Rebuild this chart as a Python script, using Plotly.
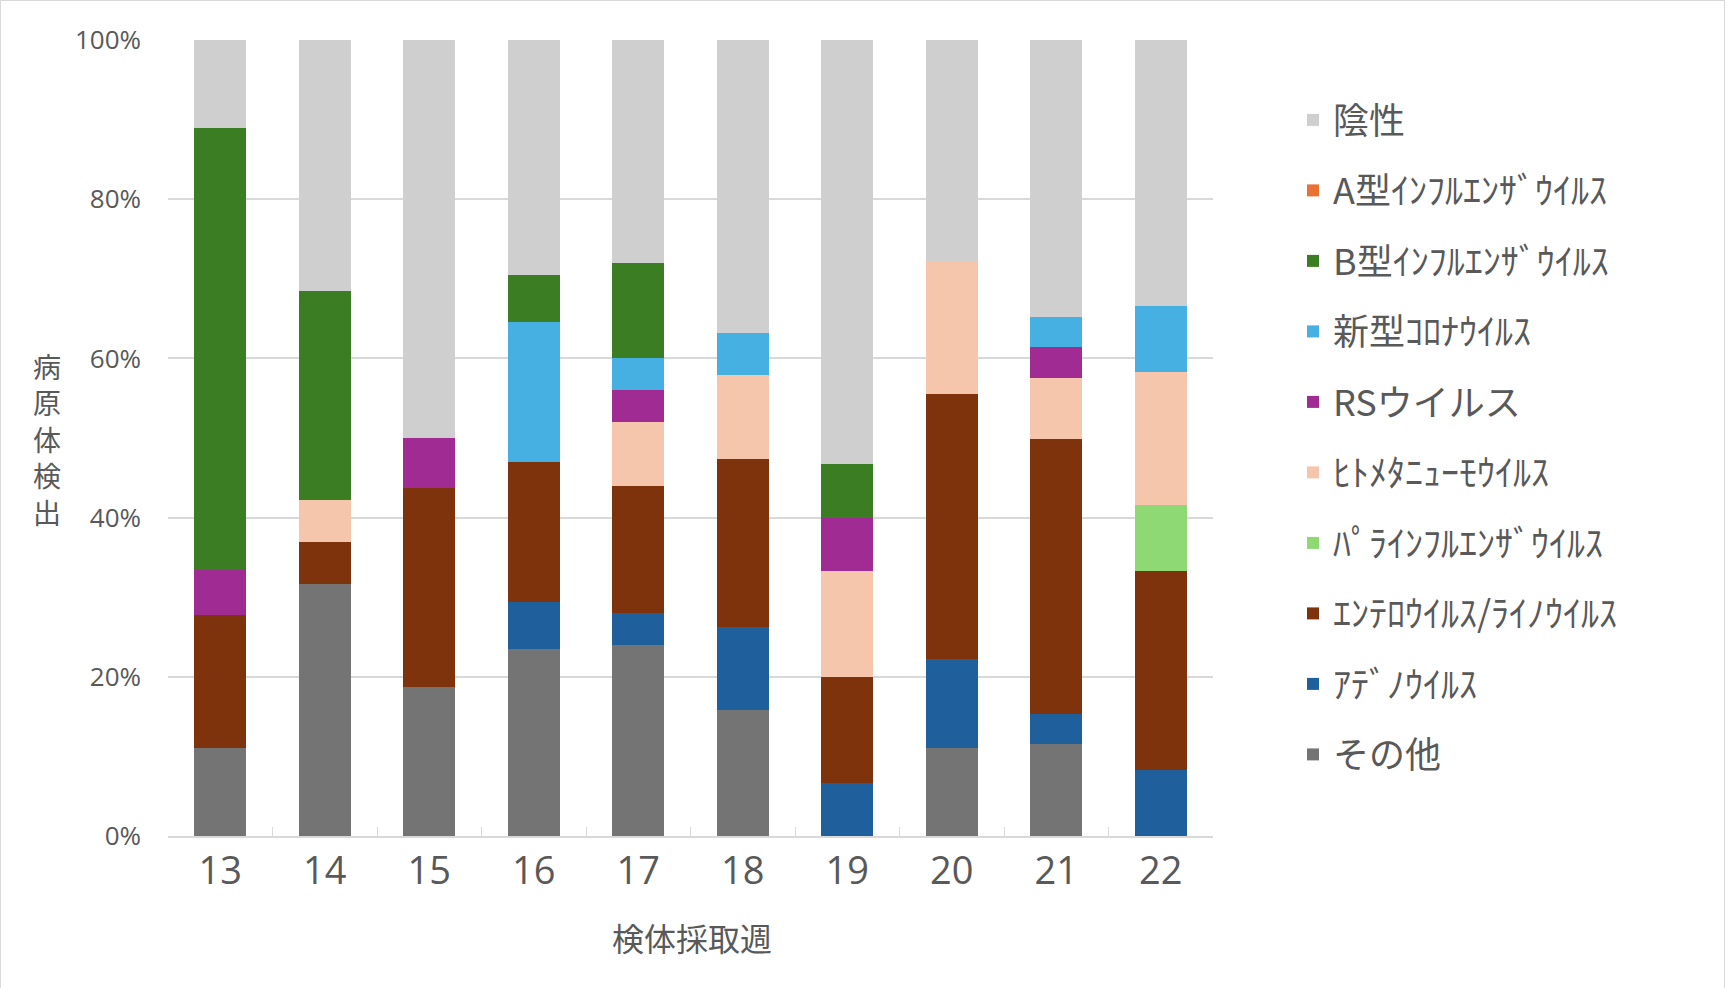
import plotly.graph_objects as go

weeks = ["13", "14", "15", "16", "17", "18", "19", "20", "21", "22"]

other = [11.1, 31.6, 18.7, 23.5, 24.0, 15.8, 0, 11.1, 11.5, 0]
adeno = [0, 0, 0, 5.9, 4.0, 10.5, 6.7, 11.1, 3.8, 8.3]
entero = [16.7, 5.3, 25.0, 17.6, 16.0, 21.1, 13.3, 33.3, 34.6, 25.0]
para = [0, 0, 0, 0, 0, 0, 0, 0, 0, 8.3]
hmpv = [0, 5.3, 0, 0, 8.0, 10.5, 13.3, 16.7, 7.7, 16.7]
rsv = [5.6, 0, 6.3, 0, 4.0, 0, 6.7, 0, 3.8, 0]
covid = [0, 0, 0, 17.6, 4.0, 5.3, 0, 0, 3.8, 8.3]
flu_b = [55.5, 26.3, 0, 5.9, 12.0, 0, 6.7, 0, 0, 0]
flu_a = [0, 0, 0, 0, 0, 0, 0, 0, 0, 0]
negative = [11.1, 31.5, 50.0, 29.5, 28.0, 36.8, 53.3, 27.8, 34.8, 33.4]

series_names = ["その他", "ｱﾃﾞﾉｳｲﾙｽ", "ｴﾝﾃﾛｳｲﾙｽ/ﾗｲﾉｳｲﾙｽ", "ﾊﾟﾗｲﾝﾌﾙｴﾝｻﾞｳｲﾙｽ",
                "ﾋﾄﾒﾀﾆｭｰﾓｳｲﾙｽ", "RSウイルス", "新型ｺﾛﾅｳｲﾙｽ", "B型ｲﾝﾌﾙｴﾝｻﾞｳｲﾙｽ",
                "A型ｲﾝﾌﾙｴﾝｻﾞｳｲﾙｽ", "陰性"]
series_values = [other, adeno, entero, para, hmpv, rsv, covid, flu_b, flu_a, negative]
series_colors = ["#747474", "#1F5F9B", "#7E330D", "#8ED973", "#F5C6AB",
                 "#A02B93", "#45B0E1", "#3B7D23", "#E97132", "#CFCFCF"]

y_ticks = [0, 20, 40, 60, 80, 100]
y_tick_labels = ["0%", "20%", "40%", "60%", "80%", "100%"]
x_title = "検体採取週"
y_title = "病原体検出"

W, H = 1729, 988
L, R, T, B = 168, 516, 40, 152
PW, PH = W - L - R, H - T - B


def px_x(x):
    return (x - L) / PW


def px_y(y):
    return (H - B - y) / PH


JP = "Noto Sans CJK JP"
TXT = "#595959"

fig = go.Figure()
n = len(series_names)
for i, (name, vals, col) in enumerate(zip(series_names, series_values, series_colors)):
    fig.add_trace(go.Bar(
        x=weeks, y=vals, name=name, marker=dict(color=col, line=dict(width=0)),
        legendgroup=f"g{i}", legendrank=n - i,
    ))

annotations = [
    dict(x=px_x(47), y=px_y(439), xref="paper", yref="paper",
         text="<br>".join(list(y_title)), showarrow=False,
         font=dict(family=JP, size=28, color=TXT),
         xanchor="center", yanchor="middle", align="center"),
    dict(x=px_x(692), y=px_y(937), xref="paper", yref="paper", text=x_title,
         showarrow=False, font=dict(family=JP, size=32, color=TXT),
         xanchor="center", yanchor="middle"),
]

shapes = [
    dict(type="line", xref="paper", yref="paper", x0=px_x(0.5), x1=px_x(0.5), y0=px_y(0), y1=px_y(H),
         line=dict(color="#D9D9D9", width=1)),
    dict(type="line", xref="paper", yref="paper", x0=px_x(0), x1=px_x(1724.5), y0=px_y(0.5), y1=px_y(0.5),
         line=dict(color="#D9D9D9", width=1)),
    dict(type="line", xref="paper", yref="paper", x0=px_x(1724.5), x1=px_x(1724.5), y0=px_y(0), y1=px_y(H),
         line=dict(color="#D9D9D9", width=1)),
]

fig.update_layout(
    width=W, height=H,
    margin=dict(l=L, r=R, t=T, b=B, pad=0),
    paper_bgcolor="white", plot_bgcolor="white",
    barmode="stack", bargap=0.5,
    showlegend=True,
    legend=dict(
        x=px_x(1293), y=px_y(90), xanchor="left", yanchor="top",
        traceorder="grouped", tracegroupgap=20.7,
        font=dict(family=JP, size=36, color=TXT),
        itemwidth=30, bgcolor="rgba(0,0,0,0)",
    ),
    xaxis=dict(
        type="category", tickfont=dict(family="Open Sans", size=38, color=TXT),
        showline=True, linecolor="#D9D9D9", linewidth=2,
        ticks="inside", tickson="boundaries", ticklen=9, tickcolor="#D9D9D9", tickwidth=1,
        showgrid=False, zeroline=False,
    ),
    yaxis=dict(
        range=[0, 100], tickvals=y_ticks, ticktext=y_tick_labels,
        tickfont=dict(family="Open Sans", size=26, color=TXT),
        showgrid=True, gridcolor="#D9D9D9", gridwidth=1.5,
        zeroline=False, showline=False, ticks="", ticklabelstandoff=26,
    ),
    annotations=annotations, shapes=shapes,
)

fig.write_html("out.html")
